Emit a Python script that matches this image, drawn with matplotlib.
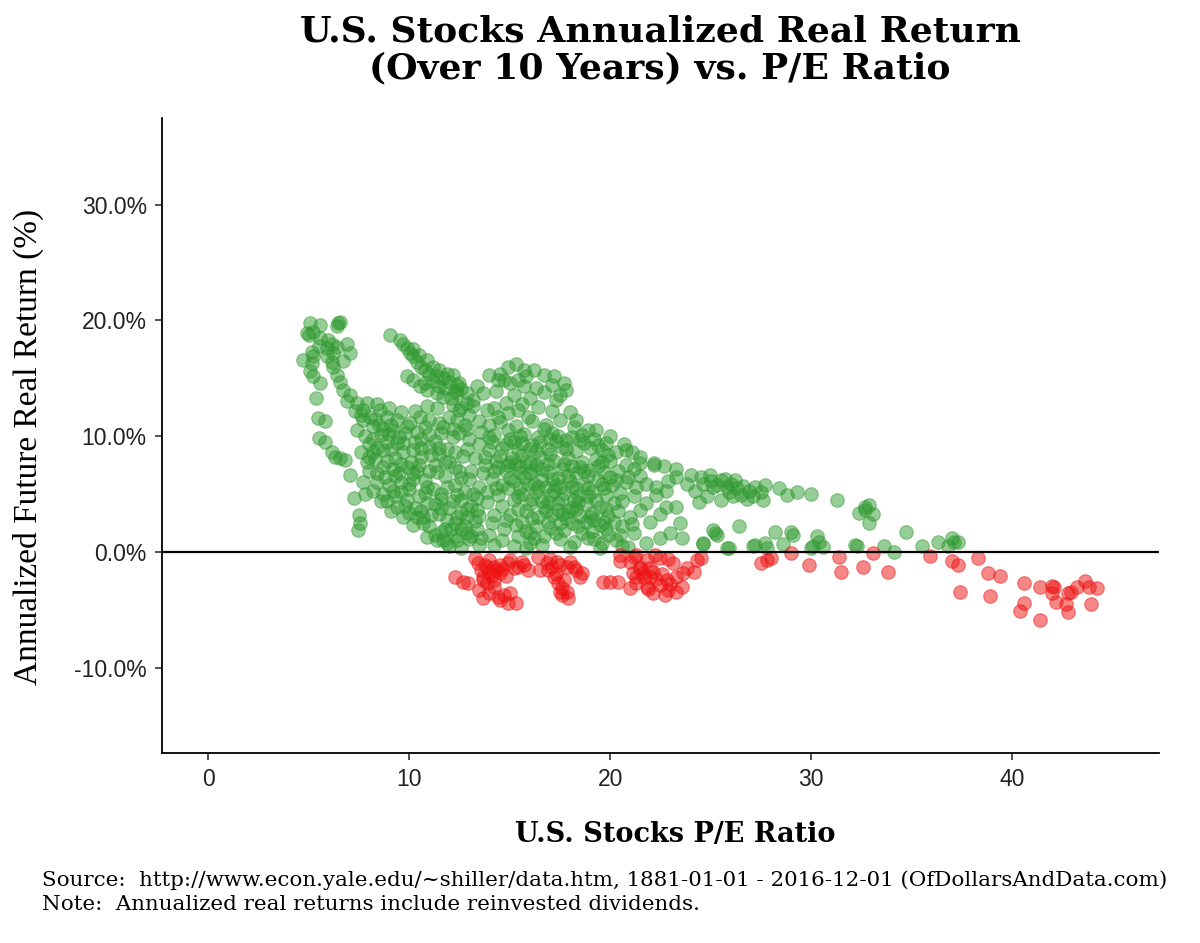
import numpy as np
import matplotlib
matplotlib.use("Agg")
import matplotlib.pyplot as plt

# ---- data (P/E ratio, annualized 10y real return in %) ----
green_points = [
    # left edge / top-left arm
    (5.07, 19.8), (5.57, 19.6), (4.94, 18.95), (5.21, 19.0), (5.04, 18.75),
    (6.48, 19.8), (6.57, 19.9), (6.4, 19.5),
    (4.74, 16.6), (5.16, 16.3), (5.07, 15.6), (5.24, 15.2), (5.16, 17.3), (5.24, 16.9),
    (5.57, 14.6), (5.37, 13.3), (5.49, 11.6), (5.82, 11.3),
    (5.54, 9.83), (5.82, 9.53), (6.15, 8.67), (6.32, 8.24), (6.57, 8.1), (6.82, 7.95),
    (7.06, 6.66), (7.26, 4.64), (7.53, 3.2), (7.56, 2.48), (7.48, 1.9),
    (5.57, 18.5), (5.99, 18.3), (6.15, 18.0), (6.4, 17.7), (6.9, 18.0), (7.06, 17.2),
    (5.9, 16.9), (6.15, 16.4), (6.24, 16.0), (6.4, 15.3), (6.57, 14.7), (6.73, 14.0),
    (7.06, 13.6), (7.4, 12.9), (7.73, 12.3), (8.06, 11.7),
    (5.5, 17.8), (5.9, 17.6), (6.2, 17.2), (6.7, 16.5),
    (8.56, 12.3), (8.89, 11.7), (9.39, 11.4), (10.05, 11.1), (10.55, 11.7), (11.0, 11.4),
    (11.5, 11.1), (12.0, 11.7), (12.5, 12.3), (12.9, 12.9),
    (6.9, 13.0), (7.3, 12.2), (7.7, 11.4), (8.2, 10.9), (8.7, 10.6), (9.2, 10.5),
    (9.8, 10.3), (10.4, 10.4), (11.0, 10.2), (11.6, 10.3), (12.2, 10.6),
    (7.9, 12.9), (8.4, 12.8), (9.0, 12.4), (9.6, 12.1), (10.3, 12.2), (10.9, 12.6),
    (11.4, 12.4), (12.2, 12.7),
    # upper arm around P/E 9-13
    (9.05, 18.75), (9.55, 18.3), (9.72, 18.0), (9.89, 17.6), (10.05, 17.2), (10.2, 16.9),
    (10.4, 16.4), (10.6, 16.0), (10.8, 15.7), (11.0, 15.4), (11.4, 15.2), (11.7, 15.0),
    (12.0, 14.7), (12.4, 14.4), (12.6, 14.1), (12.4, 13.7), (12.1, 13.3),
    (9.89, 15.2), (10.2, 14.9), (10.55, 14.3), (10.9, 14.0), (11.4, 13.7), (11.7, 13.4),
    (10.2, 17.5), (10.5, 17.0), (10.9, 16.6), (11.2, 16.0), (11.5, 15.7), (11.9, 15.4),
    (12.2, 15.3), (10.8, 14.6), (11.2, 14.8), (11.8, 14.2), (12.3, 13.9), (11.5, 14.3),
    # dense left block
    (7.4, 10.5), (8.0, 9.3), (8.3, 8.0), (8.0, 7.0), (7.7, 6.0), (8.2, 5.3), (8.7, 5.0),
    (9.3, 4.8), (9.9, 4.5), (10.3, 3.8), (10.7, 3.0), (11.0, 2.2), (11.3, 1.5), (11.7, 1.0),
    (8.5, 11.0), (9.0, 10.2), (9.4, 9.4), (9.7, 8.6), (10.1, 7.8), (10.4, 7.0), (10.8, 6.2),
    (11.2, 5.4), (11.6, 4.6), (12.0, 3.8), (12.4, 3.0), (12.8, 2.2), (13.1, 1.4),
    (10.6, 9.8), (11.0, 9.1), (11.5, 8.5), (12.0, 7.8), (12.5, 7.0), (13.0, 6.3), (13.5, 5.6),
    (8.8, 6.5), (9.2, 7.2), (9.0, 5.8), (8.4, 6.8), (9.6, 6.0), (10.0, 5.4), (8.6, 4.4),
    (9.1, 3.5), (7.9, 7.8), (8.2, 9.8), (7.6, 8.6), (8.7, 8.8), (9.3, 8.1), (9.9, 7.3),
    (10.6, 8.2), (11.3, 7.5), (11.8, 6.6), (12.3, 5.8), (10.9, 4.2), (11.5, 3.3), (9.7, 3.0),
    (10.2, 2.3), (12.1, 2.0), (7.8, 5.0),
    (10.9, 1.3), (11.4, 1.0), (11.9, 0.75), (12.4, 1.0), (12.9, 1.6), (10.4, 3.05), (10.7, 2.48),
    (7.6, 11.8), (8.3, 11.5), (9.1, 11.0), (9.9, 10.9), (10.8, 10.8), (11.7, 10.8), (12.4, 11.4),
    (7.8, 10.0), (8.6, 10.1), (9.5, 9.9), (10.3, 9.5), (11.3, 9.6), (12.2, 9.9), (12.9, 10.6),
    (8.4, 9.0), (9.1, 8.9), (10.2, 8.8), (11.1, 8.4), (11.9, 8.9), (12.7, 8.3),
    (8.0, 8.2), (8.9, 7.9), (9.6, 7.6), (10.5, 7.5), (11.4, 6.9), (12.3, 7.3), (13.1, 7.0),
    (8.4, 6.0), (9.3, 6.6), (10.2, 6.3), (10.9, 5.6), (11.9, 5.6), (12.8, 5.2), (13.4, 4.7),
    (8.9, 4.4), (9.6, 5.2), (10.5, 4.8), (11.3, 4.1), (12.2, 4.4), (12.9, 3.7),
    (9.4, 3.9), (10.0, 3.4), (11.1, 3.2), (11.9, 2.8), (12.6, 2.0), (13.3, 2.7),
    (11.6, 1.7), (12.3, 1.4), (13.6, 1.2), (14.2, 0.6),
    (8.2, 8.6), (8.9, 9.5), (9.7, 9.4), (10.6, 9.0), (11.5, 9.0), (12.3, 8.6), (12.9, 8.9),
    (8.7, 7.3), (9.5, 6.8), (10.2, 6.8), (11.0, 7.0), (11.8, 7.8), (12.6, 6.4),
    (9.2, 5.3), (10.0, 5.9), (10.8, 5.1), (11.6, 5.0), (12.4, 4.9), (13.2, 5.0),
    (9.8, 4.0), (10.6, 3.5), (11.6, 3.8), (12.6, 3.4), (13.5, 3.1), (14.1, 2.5), (14.7, 2.0),
    (15.4, 1.4), (16.0, 0.8), (13.7, 6.8), (14.3, 5.5), (13.9, 5.2), (13.3, 8.1), (13.8, 8.2),
    # P/E 11-16, lower and middle
    (12.6, 0.3), (12.0, 0.5), (13.5, 0.6), (13.0, 1.1), (11.8, 2.0), (12.3, 2.5), (12.9, 3.0),
    (13.4, 3.6), (13.9, 4.3), (14.4, 4.9), (14.9, 5.5),
    (12.5, 10.3), (13.0, 9.8), (13.5, 9.3), (14.0, 8.8), (14.5, 8.3), (15.0, 7.8), (15.5, 7.3),
    (16.0, 6.8), (12.6, 12.5), (13.0, 11.8), (13.5, 11.3), (14.0, 11.0), (12.8, 11.0), (13.2, 12.6),
    (12.6, 4.5), (13.1, 4.0), (14.2, 3.2), (14.8, 2.8), (15.3, 2.3), (15.8, 1.8), (16.2, 1.2),
    (16.6, 0.6), (13.4, 2.0), (14.0, 1.5), (14.6, 1.0), (15.2, 0.5), (15.8, 0.3),
    # top arc P/E 12.5-18
    (12.5, 14.6), (12.9, 13.7), (13.4, 14.3), (14.0, 15.3), (14.4, 14.9), (14.9, 16.0),
    (15.3, 16.2), (15.7, 15.7), (16.2, 15.7), (16.7, 15.3), (17.2, 15.2), (17.7, 14.6),
    (17.8, 14.0), (17.5, 13.6), (17.3, 13.1), (15.8, 15.2), (14.7, 14.9), (15.0, 14.6),
    (15.4, 14.9), (14.5, 15.4), (13.2, 13.1), (13.9, 12.3), (14.4, 11.7), (14.9, 12.0),
    (15.4, 12.3), (18.0, 12.1), (18.3, 11.4), (15.9, 11.7),
    (14.2, 12.4), (14.8, 12.9), (15.6, 12.8), (16.4, 12.5), (17.1, 12.2), (16.0, 13.3),
    (16.7, 13.8), (17.1, 14.4), (13.7, 13.7), (14.3, 13.9), (15.2, 13.6), (16.3, 14.2),
    (15.7, 14.3),
    # central blob P/E 14-21
    (14.5, 11.2), (15.3, 10.9), (16.1, 11.3), (16.8, 11.0), (17.5, 11.4), (18.2, 10.8),
    (14.2, 10.1), (15.0, 9.8), (15.7, 10.2), (16.4, 9.9), (17.1, 10.3), (17.8, 9.7),
    (18.6, 10.1), (19.2, 9.8),
    (14.6, 9.0), (15.4, 8.8), (16.1, 9.2), (16.9, 8.9), (17.6, 9.1), (18.3, 8.7), (19.0, 9.0),
    (19.6, 8.8),
    (14.3, 7.9), (15.1, 8.1), (15.8, 7.8), (16.5, 8.2), (17.2, 7.9), (17.9, 8.1), (18.6, 7.8),
    (19.3, 8.0), (20.0, 7.9),
    (14.8, 7.0), (15.5, 6.8), (16.2, 7.1), (16.9, 6.9), (17.6, 7.2), (18.3, 6.8), (19.0, 7.1),
    (19.7, 6.9), (20.4, 7.0),
    (15.2, 6.1), (15.9, 5.9), (16.6, 6.2), (17.3, 5.8), (18.0, 6.1), (18.7, 5.9), (19.4, 6.2),
    (20.1, 5.8), (20.8, 6.0),
    (15.6, 5.0), (16.3, 5.2), (17.0, 4.9), (17.7, 5.1), (18.4, 4.8), (19.1, 5.2), (19.8, 4.9),
    (20.5, 5.1),
    (16.0, 4.1), (16.7, 3.9), (17.4, 4.2), (18.1, 3.8), (18.8, 4.1), (19.5, 3.9), (20.2, 4.2),
    (16.4, 3.0), (17.1, 3.2), (17.8, 2.9), (18.5, 3.1), (19.2, 2.8), (19.9, 3.1),
    (17.0, 2.1), (17.7, 1.9), (18.4, 2.2), (19.1, 1.8), (19.8, 2.0),
    (17.5, 1.1), (18.2, 0.9), (18.9, 1.2), (19.6, 0.8), (20.3, 1.0),
    (18.0, 0.4), (19.5, 0.3), (20.6, 0.5),
    (15.6, 8.4), (16.3, 7.5), (17.0, 8.5), (17.4, 6.4), (18.1, 7.4), (16.8, 5.6), (17.6, 4.6),
    (18.3, 5.5), (15.2, 9.5), (16.7, 10.6), (18.9, 6.6), (17.9, 3.5), (16.1, 4.6), (19.3, 4.5),
    (20.0, 6.5), (15.0, 6.4), (16.0, 8.9), (17.3, 9.6), (18.7, 9.4), (19.9, 8.4),
    (13.6, 10.4), (14.1, 9.5), (14.9, 10.5), (15.6, 9.4), (16.5, 9.5), (17.4, 10.0), (18.1, 9.9),
    (18.9, 10.5), (13.8, 7.5), (14.4, 7.3), (15.3, 7.6), (16.0, 7.7), (16.9, 7.6), (17.7, 7.6),
    (18.5, 7.3), (19.4, 7.4), (14.1, 6.3), (14.6, 5.8), (15.5, 5.5), (16.4, 5.6), (17.2, 5.3),
    (18.1, 5.6), (18.9, 5.5), (19.7, 5.5), (14.6, 4.0), (15.2, 4.5), (15.8, 3.5), (16.6, 4.4),
    (17.4, 3.6), (18.4, 4.3), (19.1, 3.4), (19.8, 3.7), (15.0, 3.2), (15.6, 2.6), (16.3, 2.2),
    (16.9, 2.6), (17.5, 2.5), (18.1, 2.5), (18.8, 2.6), (19.5, 2.3), (16.0, 1.6), (16.7, 1.4),
    (17.3, 1.6), (18.6, 1.6), (19.2, 1.1), (19.9, 1.5), (20.2, 2.6),
    (14.0, 9.9), (14.8, 9.3), (15.5, 10.0), (16.3, 8.7), (17.0, 9.8), (17.8, 8.9), (18.5, 9.7),
    (19.4, 9.2), (14.2, 7.0), (14.9, 7.5), (15.7, 6.5), (16.6, 7.2), (17.1, 6.3), (17.9, 6.6),
    (18.7, 7.0), (19.6, 7.8), (15.4, 4.8), (16.2, 5.9), (16.9, 4.3), (17.5, 5.6), (18.2, 4.5),
    (18.9, 4.8), (19.6, 5.9), (20.3, 6.2), (15.4, 3.7), (16.1, 2.9), (16.8, 3.5), (17.6, 3.3),
    (18.3, 3.7), (19.0, 3.0), (19.7, 2.6),
    # P/E 19-26
    (19.3, 10.5), (20.0, 10.0), (20.8, 8.8), (21.5, 8.2), (22.2, 7.7), (21.8, 5.9), (22.3, 5.6),
    (21.2, 4.8), (21.8, 4.2), (21.2, 1.6), (21.8, 0.75),
    (21.5, 7.7), (22.2, 7.5), (22.7, 7.4), (23.3, 7.2), (24.0, 6.66), (24.5, 6.5), (24.98, 6.66),
    (25.5, 6.2), (25.1, 5.6), (25.8, 5.6), (24.8, 4.8), (25.5, 4.5), (24.4, 4.35),
    (23.5, 2.5), (23.6, 1.2), (23.0, 1.6), (25.1, 1.9), (25.2, 1.6), (24.6, 0.75), (25.8, 0.3),
    (22.5, 3.3), (22.8, 3.9), (23.3, 3.9),
    (20.7, 9.3), (21.1, 8.6), (20.4, 3.5), (21.0, 3.0), (20.6, 2.2), (22.0, 2.6), (21.5, 6.6),
    (22.9, 6.1), (20.9, 0.4), (22.5, 1.2),
    (19.8, 9.4), (20.3, 8.6), (20.8, 7.5), (21.2, 7.2), (20.9, 6.5), (21.3, 5.6), (20.6, 4.4),
    (21.5, 3.6), (21.1, 2.4), (20.5, 1.5), (22.3, 4.9), (22.8, 5.3), (23.3, 6.5),
    # tail P/E 24-38
    (24.6, 5.9), (25.0, 6.1), (25.3, 5.8), (25.7, 6.3), (26.0, 5.9), (26.3, 5.5), (26.6, 5.7),
    (26.9, 5.3), (27.2, 5.6), (27.5, 5.2), (26.1, 4.8), (26.5, 4.9), (26.8, 4.6), (27.1, 4.8),
    (27.6, 4.5), (27.7, 5.8), (25.9, 5.2), (26.2, 6.2), (24.2, 5.3), (23.8, 5.9),
    (28.4, 5.5), (28.8, 4.9), (29.3, 5.2), (30.0, 5.0), (31.3, 4.5), (32.4, 3.4), (32.7, 3.9),
    (32.9, 4.06), (32.7, 3.63), (33.1, 3.28), (32.9, 2.53), (34.7, 1.75), (35.5, 0.52),
    (36.3, 0.89), (36.8, 0.52), (37.0, 1.18), (37.1, 0.89), (37.3, 0.89), (34.1, 0.03),
    (33.6, 0.52), (32.2, 0.6), (32.3, 0.52), (30.3, 1.38), (30.4, 0.89), (30.1, 0.52),
    (30.6, 0.4), (30.0, 0.3), (29.0, 1.75), (29.1, 1.47), (28.2, 1.75), (28.6, 0.69),
    (27.7, 0.75), (27.8, 0.32), (27.1, 0.52), (27.2, 0.6), (26.4, 2.25), (25.3, 1.47),
    (25.9, 0.32), (24.6, 0.69),
]

red_points = [
    # cluster around P/E 12-16
    (12.3, -2.19), (12.7, -2.56), (12.95, -2.7), (13.3, -0.55), (13.45, -0.98),
    (13.6, -1.56), (13.7, -2.13), (13.9, -2.7), (13.8, -1.12), (14.0, -0.69),
    (13.7, -4.0), (14.0, -3.57), (14.4, -3.86), (14.7, -3.72), (15.0, -3.57), (15.3, -4.43),
    (14.9, -4.43), (14.5, -4.15),
    (14.2, -1.27), (14.5, -1.12), (14.9, -0.98), (15.0, -0.69), (15.4, -1.27), (15.7, -1.12),
    (15.9, -1.56), (14.5, -1.84), (14.2, -2.42), (14.0, -1.84),
    (13.9, -1.3), (14.1, -2.0), (14.3, -1.6), (13.7, -2.4), (14.6, -1.5), (15.2, -1.4),
    (15.6, -0.9), (14.8, -2.1), (13.5, -3.3), (14.2, -3.0),
    # cluster around P/E 16-19
    (16.4, -0.4), (16.5, -1.56), (16.85, -0.98), (17.1, -1.27), (17.35, -0.84), (17.5, -1.12),
    (17.85, -1.27), (18.3, -1.56), (18.6, -1.84), (18.5, -2.13), (17.2, -2.13), (17.4, -2.7),
    (17.6, -3.13), (17.85, -3.43), (17.6, -3.72), (17.9, -4.0),
    (16.9, -1.6), (17.3, -1.9), (17.0, -0.6), (18.0, -0.9), (17.7, -2.4), (17.5, -3.5),
    (18.2, -1.3),
    # cluster around P/E 19.5-24.5
    (19.67, -2.56), (20.0, -2.56), (20.41, -2.56), (20.5, -0.26), (20.99, -0.84), (21.3, -0.26),
    (21.5, -1.27), (21.66, -1.84), (22.0, -2.13), (22.15, -1.7), (21.15, -1.84), (21.3, -2.7),
    (20.99, -3.13), (21.83, -2.99), (22.15, -3.57), (22.49, -2.85), (22.82, -2.42), (22.9, -3.28),
    (23.3, -2.13), (23.3, -3.43), (23.65, -1.84), (23.8, -1.41), (24.15, -1.7), (24.3, -0.69),
    (23.15, -0.98), (22.74, -3.72), (22.24, -0.26), (22.49, -0.55), (21.83, -0.69),
    (21.5, -1.5), (21.7, -2.2), (22.0, -1.4), (21.3, -2.2), (22.3, -2.3), (21.9, -3.2),
    (22.6, -1.9), (23.0, -2.8), (20.5, -0.8), (21.2, -0.4), (22.9, -0.6), (23.6, -3.0),
    # high P/E tail
    (24.5, -0.55), (27.5, -0.98), (27.8, -0.69), (28.0, -0.55), (29.0, -0.12), (29.9, -1.12),
    (31.4, -0.46), (31.5, -1.76), (32.6, -1.33), (33.1, -0.06), (33.8, -1.76), (35.9, -0.35),
    (37.0, -0.78), (37.3, -1.12), (37.4, -3.49), (38.3, -0.55), (38.8, -1.79), (38.9, -3.78),
    (39.4, -2.07), (40.6, -2.65), (40.6, -4.38), (40.4, -5.07), (41.4, -3.0), (41.4, -5.88),
    (42.0, -2.94), (42.1, -3.0), (42.0, -3.52), (42.2, -4.35), (42.7, -4.49), (42.8, -5.16),
    (42.8, -3.52), (42.9, -3.43), (43.2, -3.0), (43.6, -2.48), (43.8, -3.0), (44.2, -3.14),
    (43.9, -4.52),
]

y_ticks = [-10, 0, 10, 20, 30]
x_ticks = [0, 10, 20, 30, 40]

green = np.array(green_points)
red = np.array(red_points)

fig = plt.figure(figsize=(12, 9.43), dpi=100)
ax = fig.add_axes([0.135, 0.2018, 0.8308, 0.6731])

ax.scatter(green[:, 0], green[:, 1], s=95, color='#2f9a2f', alpha=0.5,
           edgecolors='#2f9a2f', linewidths=0.8, zorder=2)
ax.scatter(red[:, 0], red[:, 1], s=95, color='#ee1111', alpha=0.5,
           edgecolors='#ee1111', linewidths=0.8, zorder=2)
ax.axhline(0, color='black', lw=1.6, zorder=3)

ax.set_xlim(-2.29, 47.3)
ax.set_ylim(-17.35, 37.5)
ax.set_xticks(x_ticks)
ax.set_yticks(y_ticks)
ax.set_yticklabels([f"{v:.1f}%" for v in y_ticks])

for side in ['top', 'right']:
    ax.spines[side].set_visible(False)
for side in ['left', 'bottom']:
    ax.spines[side].set_linewidth(1.3)
ax.tick_params(axis='both', length=5, width=1.2, color='#333333',
               labelsize=16.5, labelcolor='#222222', pad=6)
for lbl in ax.get_xticklabels() + ax.get_yticklabels():
    lbl.set_family('Liberation Sans')

ax.set_xlabel('U.S. Stocks P/E Ratio', family='DejaVu Serif', weight='bold',
              fontsize=19.5)
ax.set_ylabel('Annualized Future Real Return (%)', family='Liberation Serif',
              fontsize=24)
ax.xaxis.set_label_coords(0.515, -0.107)
ax.yaxis.set_label_coords(-0.118, 0.482)

fig.text(0.55, 0.985, 'U.S. Stocks Annualized Real Return\n(Over 10 Years) vs. P/E Ratio',
         ha='center', va='top', family='DejaVu Serif', weight='bold', fontsize=26,
         linespacing=1.12)

fig.text(0.035, 0.077,
         'Source:  http://www.econ.yale.edu/~shiller/data.htm, 1881-01-01 - 2016-12-01 (OfDollarsAndData.com)\n'
         'Note:  Annualized real returns include reinvested dividends.',
         ha='left', va='top', family='DejaVu Serif', fontsize=15.4, linespacing=1.3)

fig.savefig('out.png', dpi=100)
